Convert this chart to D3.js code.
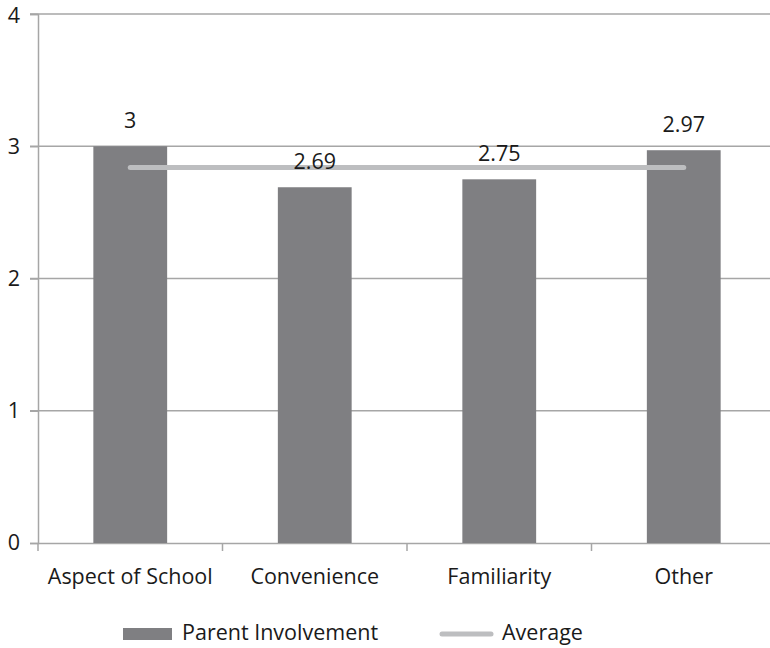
<!DOCTYPE html>
<html><head><meta charset="utf-8">
<script src="https://cdn.jsdelivr.net/npm/d3@7"></script>
<style>body{margin:0;background:#fff}svg{display:block}text{font-family:"Open Sans",sans-serif;fill:#1a1a1a}</style>
</head><body><svg id="c" width="770" height="648"></svg>
<script>
const categories = ["Aspect of School","Convenience","Familiarity","Other"];
const parentInvolvement = [3, 2.69, 2.75, 2.97];
const average = [2.84, 2.84, 2.84, 2.84];
const yTicks = [0,1,2,3,4];

const svg = d3.select("#c");
const m = {l:38, t:14, r:776, b:543};
const x = d3.scaleBand().domain(categories).range([m.l, m.r]).padding(0);
const y = d3.scaleLinear().domain([0,4]).range([m.b, m.t]);
const grid = "#a6a6a6";
const fs = 21.5;

// gridlines
svg.append("g").selectAll("line").data(yTicks.filter(d=>d>0)).join("line")
  .attr("x1", m.l-8).attr("x2", m.r).attr("y1", d=>y(d)).attr("y2", d=>y(d))
  .attr("stroke", grid).attr("stroke-width", 1.5);

// y axis
const ya = svg.append("g").attr("transform",`translate(${m.l},0)`)
  .call(d3.axisLeft(y).tickValues(yTicks).tickSize(8).tickFormat(d3.format("d")));
ya.select(".domain").attr("stroke", grid).attr("stroke-width",1.5);
ya.selectAll(".tick line").attr("stroke", grid).attr("stroke-width",1.5);
ya.selectAll(".tick text").attr("font-size", fs).attr("font-family","Open Sans").attr("fill","#1a1a1a").attr("x",-18)
  .attr("y", d => d === 4 ? 2 : 0);

// x axis
const xa = svg.append("g").attr("transform",`translate(0,${m.b})`)
  .call(d3.axisBottom(x).tickSize(0).tickPadding(0));
xa.select(".domain").attr("stroke", grid).attr("stroke-width",1.5);
xa.selectAll(".tick text").attr("font-size", fs).attr("font-family","Open Sans").attr("fill","#1a1a1a").attr("dy",0).attr("y",41);
svg.append("g").selectAll("line").data(d3.range(categories.length+1)).join("line")
  .attr("x1", i=>m.l + i*x.step()).attr("x2", i=>m.l + i*x.step())
  .attr("y1", m.b).attr("y2", m.b+8).attr("stroke", grid).attr("stroke-width",1.5);

// bars
const bw = x.bandwidth()*0.4;
svg.append("g").selectAll("rect").data(categories).join("rect")
  .attr("x", (d)=>x(d)+x.bandwidth()/2-bw/2).attr("width", bw)
  .attr("y", (d,i)=>y(parentInvolvement[i])).attr("height",(d,i)=>y(0)-y(parentInvolvement[i]))
  .attr("fill","#7f7f82");

// average line
svg.append("path").datum(categories)
  .attr("d", d3.line().x(d=>x(d)+x.bandwidth()/2).y((d,i)=>y(average[i])))
  .attr("fill","none").attr("stroke","#bdbec0").attr("stroke-width",5).attr("stroke-linecap","round");

// data labels
svg.append("g").selectAll("text").data(categories).join("text")
  .attr("x", d=>x(d)+x.bandwidth()/2).attr("y",(d,i)=>y(parentInvolvement[i])-18.5)
  .attr("text-anchor","middle").attr("font-size",fs).text((d,i)=>parentInvolvement[i]);

// legend
svg.append("rect").attr("x",123).attr("y",628).attr("width",49).attr("height",12).attr("fill","#7f7f82");
svg.append("text").attr("x",182).attr("y",640).attr("font-size",fs).text("Parent Involvement");
svg.append("line").attr("x1",442).attr("x2",491).attr("y1",634).attr("y2",634)
  .attr("stroke","#bdbec0").attr("stroke-width",5).attr("stroke-linecap","round");
svg.append("text").attr("x",502).attr("y",640).attr("font-size",fs).text("Average");
</script></body></html>
